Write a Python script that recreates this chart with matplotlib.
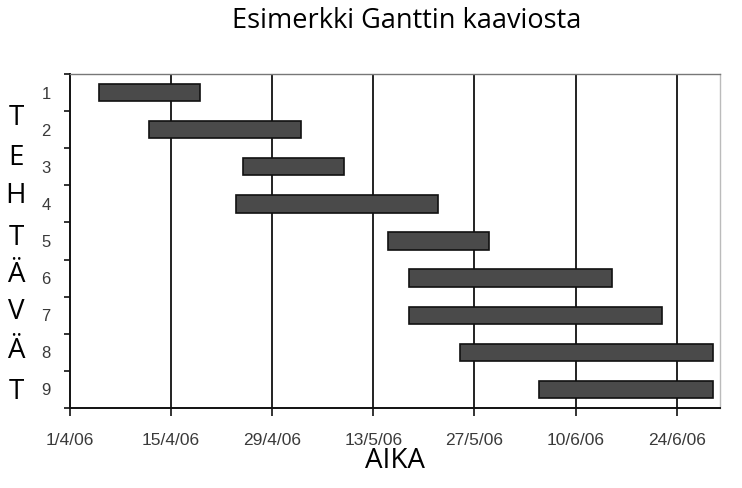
import matplotlib
matplotlib.use('Agg')
import matplotlib.pyplot as plt
import matplotlib.dates as mdates
from datetime import datetime

# Tehtävät: aloituspäivä ja kesto päivinä
tasks = ['1', '2', '3', '4', '5', '6', '7', '8', '9']
starts = ['2006-04-05', '2006-04-12', '2006-04-25', '2006-04-24', '2006-05-15',
          '2006-05-18', '2006-05-18', '2006-05-25', '2006-06-05']
durations = [14, 21, 14, 28, 14, 28, 35, 35, 24]

tick_dates = ['2006-04-01', '2006-04-15', '2006-04-29', '2006-05-13',
              '2006-05-27', '2006-06-10', '2006-06-24']
tick_labels = ['1/4/06', '15/4/06', '29/4/06', '13/5/06', '27/5/06', '10/6/06', '24/6/06']
side_letters = ['T', 'E', 'H', 'T', 'Ä', 'V', 'Ä', 'T']

title = 'Esimerkki Ganttin kaaviosta'
xlabel = 'AIKA'

to_num = lambda s: mdates.date2num(datetime.strptime(s, '%Y-%m-%d'))

fig = plt.figure(figsize=(7.42, 4.88), dpi=100)
ax = fig.add_axes([70 / 742, 80 / 488, 650 / 742, 334 / 488])

x0 = to_num(tick_dates[0])
ax.set_xlim(x0, x0 + 90)
ax.set_ylim(len(tasks), 0)

# pystysuorat ruudukkoviivat
for d in tick_dates[1:]:
    ax.axvline(to_num(d), color='#111111', lw=1.3, zorder=1)

ys = [i + 0.5 for i in range(len(tasks))]
lefts = [to_num(s) for s in starts]
ax.barh(ys, durations, left=lefts, height=0.47, color='#4a4a4a',
        edgecolor='#111111', linewidth=1.2, zorder=3)

# akselit
ax.set_xticks([to_num(d) for d in tick_dates])
ax.set_xticklabels(tick_labels, fontsize=12.5, color='#3a3a3a',
                   family='Liberation Sans')
ax.tick_params(axis='x', length=6, width=1.2, pad=12, color='#111111')
ax.set_yticks(range(len(tasks) + 1))
ax.set_yticklabels([])
ax.set_yticks(ys, minor=True)
ax.set_yticklabels(tasks, minor=True, fontsize=12, color='#3a3a3a',
                   family='Liberation Sans')
ax.tick_params(axis='y', which='major', length=4, width=1.2, color='#111111')
ax.tick_params(axis='y', which='minor', length=0, pad=14)

ax.spines['left'].set_color('#111111')
ax.spines['left'].set_linewidth(1.4)
ax.spines['bottom'].set_color('#111111')
ax.spines['bottom'].set_linewidth(1.4)
ax.spines['top'].set_color('#777777')
ax.spines['top'].set_linewidth(1.0)
ax.spines['right'].set_color('#bbbbbb')
ax.spines['right'].set_linewidth(1.0)

fig.text(407 / 742, 1 - 21 / 488, title, ha='center', va='center',
         fontsize=19.5, family='Open Sans')
fig.text(395 / 742, 1 - 461 / 488, xlabel, ha='center', va='center',
         fontsize=20, family='Open Sans')

letter_y = [118, 158, 196, 238, 275, 312, 351, 392]
for ch, y in zip(side_letters, letter_y):
    fig.text(16 / 742, 1 - y / 488, ch, ha='center', va='center',
             fontsize=20, family='Open Sans')

fig.savefig('out.png', dpi=100)
